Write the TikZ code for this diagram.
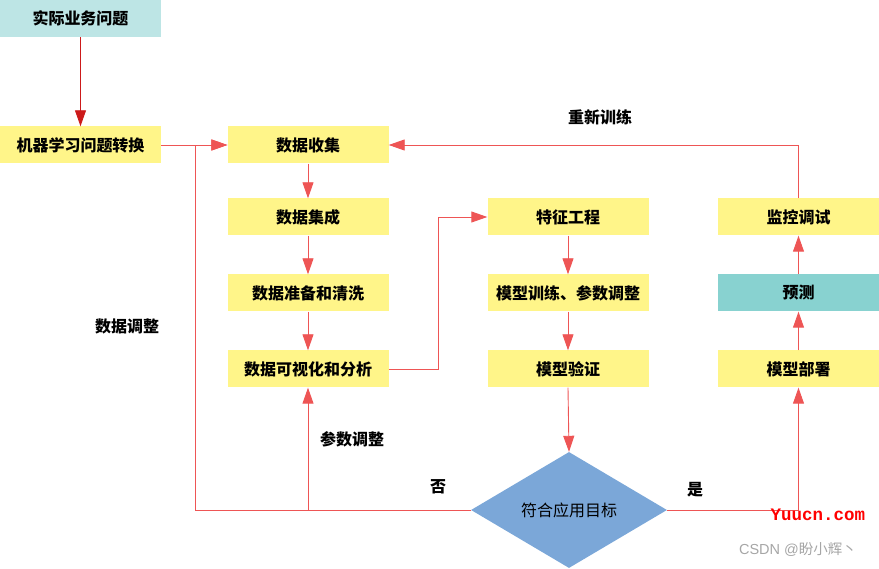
\documentclass[tikz,border=0pt]{standalone}
\usepackage{fontspec}
\setmainfont{Noto Sans CJK SC}
\newfontfamily\wmfont{Liberation Mono}
\newfontfamily\csdnfont{Liberation Sans}
\usetikzlibrary{arrows.meta,shapes.geometric}
\definecolor{boxyellow}{HTML}{FFF589}
\definecolor{topcyan}{HTML}{BDE5E5}
\definecolor{predteal}{HTML}{88D2D0}
\definecolor{diablue}{HTML}{7BA7D8}
\definecolor{linered}{HTML}{EE5555}
\definecolor{darkred}{HTML}{CC1A1A}
\tikzset{
  stepbox/.style={rectangle, minimum width=161pt, minimum height=37pt, inner sep=0pt, fill=boxyellow, font=\fontsize{16}{19}\selectfont\bfseries},
  conn/.style={draw=linered, line width=0.9pt, -{Triangle[length=16pt,width=11pt]}},
  lbl/.style={font=\fontsize{16}{19}\selectfont\bfseries, inner sep=0pt}
}
\begin{document}
\begin{tikzpicture}[x=1pt,y=-1pt]
\useasboundingbox (0,0) rectangle (879,569);
% boxes
\node[stepbox, fill=topcyan] (biz) at (80.5,18.5) {实际业务问题};
\node[stepbox] (ml) at (80.5,145) {机器学习问题转换};
\node[stepbox] (collect) at (308,145) {数据收集};
\node[stepbox] (integ) at (308,217) {数据集成};
\node[stepbox] (prep) at (308,293) {数据准备和清洗};
\node[stepbox] (viz) at (308,369) {数据可视化和分析};
\node[stepbox] (feat) at (568,217) {特征工程};
\node[stepbox] (train) at (568,293) {模型训练、参数调整};
\node[stepbox] (valid) at (568,369) {模型验证};
\node[stepbox] (monitor) at (798.5,217) {监控调试};
\node[stepbox, fill=predteal] (pred) at (798.5,293) {预测};
\node[stepbox] (deploy) at (798.5,369) {模型部署};
\node[diamond, fill=diablue, minimum width=196pt, minimum height=116pt, inner sep=0pt, aspect=1.69, font=\fontsize{16}{19}\selectfont] (dia) at (569,510) {符合应用目标};
% junction coordinates
\coordinate (jA) at (195,145);
\coordinate (jB) at (308,510);
\coordinate (jC) at (438,369);
\coordinate (jD) at (monitor.north |- collect.east);
% connectors
\draw[conn, draw=darkred, -{Triangle[length=16pt,width=11pt,fill=darkred]}] (biz) -- (ml);
\draw[conn] (ml) -- (collect);
\draw[conn] (dia.west) -| (jA) -- (collect.west);
\draw[conn] (jB) -- (viz.south);
\draw[conn] (collect) -- (integ);
\draw[conn] (integ) -- (prep);
\draw[conn] (prep) -- (viz);
\draw[conn] (viz.east) -- (jC) |- (feat.west);
\draw[conn] (feat) -- (train);
\draw[conn] (train) -- (valid);
\draw[conn] (valid.south) -- (dia.north);
\draw[conn] (dia.east) -| (deploy.south);
\draw[conn] (deploy) -- (pred);
\draw[conn] (pred) -- (monitor);
\draw[conn] (monitor.north) -- (jD) -- (collect.east);
% labels
\node[lbl] (lretrain) at (600,117) {重新训练};
\node[lbl] (ldata) at (127,326) {数据调整};
\node[lbl] (lparam) at (352,439) {参数调整};
\node[lbl] (lno) at (438,487) {否};
\node[lbl] (lyes) at (695,490) {是};
% watermarks
\node[font=\wmfont\fontsize{17.5}{20}\selectfont\bfseries, text=red, inner sep=0pt] (wm1) at (818,515) {Yuucn.com};
\node[font=\fontsize{14.5}{17}\selectfont, text=gray!70, inner sep=0pt] (wm2) at (798,550) {{\csdnfont CSDN @}盼小辉丶};
\end{tikzpicture}
\end{document}
